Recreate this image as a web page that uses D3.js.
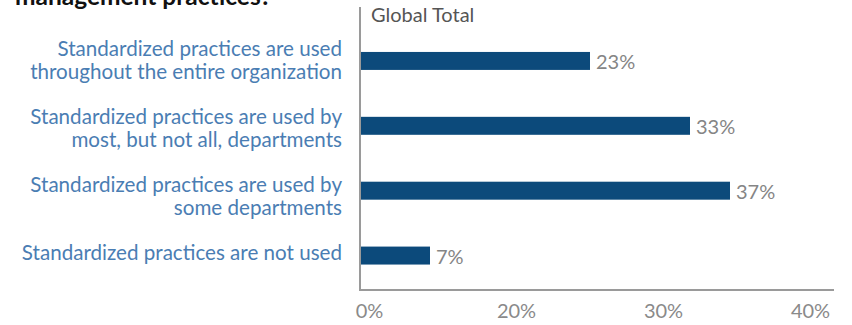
<!DOCTYPE html>
<html>
<head>
<meta charset="utf-8">
<script src="https://cdn.jsdelivr.net/npm/d3@7"></script>
<style>
  body { margin: 0; background: #fff; }
  svg { display: block; }
</style>
</head>
<body>
<svg id="chart" width="852" height="325"></svg>
<script>
// Survey answers, each split into the lines it is printed on
const categoryLines = [
  ["Standardized practices are used", "throughout the entire organization"],
  ["Standardized practices are used by", "most, but not all, departments"],
  ["Standardized practices are used by", "some departments"],
  ["Standardized practices are not used"]
];
const categories = categoryLines.map(l => l.join(" "));
const values = [23, 33, 37, 7];          // Global Total, percent
const tickLabels = ["0%", "20%", "30%", "40%"];
const seriesName = "Global Total";
const titleTail = "management practices?";

const font = "Lato, 'Open Sans', sans-serif";
const svg = d3.select("#chart");

const x = d3.scaleLinear().domain([0, 47.4]).range([360, 834]);
const y = d3.scaleBand().domain(categories).range([28.5, 288])
  .paddingInner(0.723).paddingOuter(0.3615);
// category labels sit on an even grid, top-aligned
const labelY = d3.scalePoint().domain(categories).range([55.8, 259.8]);
const tickPos = d3.scalePoint().domain(tickLabels).range([369, 810]);

// tail of the question title, running off the top edge
svg.append("text")
  .attr("x", 15).attr("y", 5)
  .attr("font-family", font).attr("font-weight", 700)
  .attr("font-size", 24.5).attr("fill", "#111")
  .text(titleTail);

// bars
svg.selectAll("rect.bar").data(values).join("rect")
  .attr("class", "bar")
  .attr("x", x(0))
  .attr("y", (d, i) => y(categories[i]))
  .attr("width", d => x(d) - x(0))
  .attr("height", y.bandwidth())
  .attr("fill", "#0c4a7b");

// value labels
svg.selectAll("text.val").data(values).join("text")
  .attr("class", "val")
  .attr("x", d => x(d) + 6)
  .attr("y", (d, i) => y(categories[i]) + y.bandwidth() / 2 + 8)
  .attr("font-family", font).attr("font-size", 20).attr("fill", "#858585")
  .text(d => d + "%");

// category labels, right aligned
const cat = svg.selectAll("text.cat").data(categoryLines).join("text")
  .attr("class", "cat")
  .attr("text-anchor", "end")
  .attr("font-family", font).attr("font-size", 20.6).attr("fill", "#4a7db3")
  .attr("y", (d, i) => labelY(categories[i]));
cat.selectAll("tspan").data(d => d).join("tspan")
  .attr("x", 342)
  .attr("dy", (d, j) => j === 0 ? 0 : 23)
  .text(d => d);

// axis lines
svg.append("line")
  .attr("x1", x(0)).attr("x2", x(0)).attr("y1", 7).attr("y2", 291)
  .attr("stroke", "#9a9a9a").attr("stroke-width", 2);
svg.append("line")
  .attr("x1", x(0) - 1).attr("x2", x.range()[1]).attr("y1", 290).attr("y2", 290)
  .attr("stroke", "#9a9a9a").attr("stroke-width", 2);

// bottom tick labels
const ax = svg.append("g").attr("transform", "translate(0,290)")
  .call(d3.axisBottom(tickPos).tickSize(0).tickPadding(14));
ax.select(".domain").remove();
ax.selectAll("text")
  .attr("font-family", font).attr("font-size", 20).attr("fill", "#8a8a8a");

// series name
svg.append("text")
  .attr("x", 371).attr("y", 22)
  .attr("font-family", font).attr("font-size", 20).attr("fill", "#555")
  .text(seriesName);
</script>
</body>
</html>
